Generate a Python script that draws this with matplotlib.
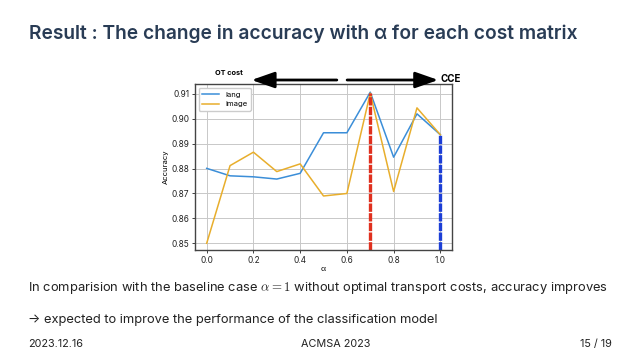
import matplotlib
matplotlib.use("Agg")
import matplotlib.pyplot as plt

alpha = [0.0, 0.1, 0.2, 0.3, 0.4, 0.5, 0.6, 0.7, 0.8, 0.9, 1.0]
lang = [0.8801, 0.8771, 0.8767, 0.8758, 0.8781, 0.8944, 0.8944, 0.9107, 0.8846, 0.9020, 0.8936]
image = [0.8500, 0.8812, 0.8866, 0.8788, 0.8819, 0.8690, 0.8700, 0.9103, 0.8708, 0.9044, 0.8936]
best_alpha = 0.7
base_alpha = 1.0

plt.rcParams['font.family'] = ['Inter', 'DejaVu Sans']
plt.rcParams['mathtext.fontset'] = 'cm'

fig = plt.figure(figsize=(6.4, 3.6), dpi=100)
fig.patch.set_facecolor('white')

navy = '#293c55'
fig.text(0.045, 0.906, "Result : The change in accuracy with α for each cost matrix",
         fontsize=13.8, color=navy, fontweight='semibold', va='center', ha='left')

ax = fig.add_axes([0.3047, 0.3056, 0.4016, 0.4611])
ax.plot(alpha, lang, color='#3b8ed8', lw=1.1, label='lang')
ax.plot(alpha, image, color='#e8ae2c', lw=1.1, label='image')
ax.vlines(best_alpha, 0.8473, image[alpha.index(best_alpha)], colors='#e0301e', lw=2.4, linestyles=(0, (2.5, 0.4)))
ax.vlines(base_alpha, 0.8473, lang[alpha.index(base_alpha)], colors='#1c3ed6', lw=2.4, linestyles=(0, (2.5, 0.4)))
ax.set_xlim(-0.05, 1.05)
ax.set_ylim(0.8473, 0.914)
ax.set_xticks([0.0, 0.2, 0.4, 0.6, 0.8, 1.0])
ax.set_yticks([0.85, 0.86, 0.87, 0.88, 0.89, 0.90, 0.91])
ax.set_yticklabels(['0.85', '0.86', '0.87', '0.88', '0.89', '0.90', '0.91'])
ax.grid(True, color='#c8c8c8', lw=0.7)
ax.set_axisbelow(True)
ax.tick_params(labelsize=6, length=2, width=0.6, pad=2, colors='#222222')
for s in ax.spines.values():
    s.set_color('#444444')
    s.set_linewidth(1.0)
ax.set_xlabel('α', fontsize=5.5, labelpad=1)
ax.set_ylabel('Accuracy', fontsize=5.5, labelpad=2)
leg = ax.legend(loc='upper left', fontsize=5.5, handlelength=2.2, borderpad=0.45,
                labelspacing=0.45, framealpha=1, edgecolor='#cccccc')

arrow_style = dict(arrowstyle='-|>,head_length=1.0,head_width=0.35', lw=2, color='black',
                   shrinkA=0, shrinkB=0, mutation_scale=14)
ax.annotate('', xy=(0.192, 1.024), xytext=(0.557, 1.024),
            xycoords=('data', 'axes fraction'), textcoords=('data', 'axes fraction'),
            arrowprops=arrow_style)
ax.annotate('', xy=(0.991, 1.024), xytext=(0.601, 1.024),
            xycoords=('data', 'axes fraction'), textcoords=('data', 'axes fraction'),
            arrowprops=arrow_style)
ax.text(0.078, 1.066, 'OT cost', transform=ax.transAxes, fontsize=5.3, fontweight='bold',
        ha='left', va='center')
ax.text(0.957, 1.03, 'CCE', transform=ax.transAxes, fontsize=7, fontweight='bold',
        ha='left', va='center')

body = '#222222'
fig.text(0.044, 0.2, r"In comparision with the baseline case $\alpha = 1$ without optimal transport costs, accuracy improves",
         fontsize=9.3, color=body, va='center', ha='left')
fig.text(0.044, 0.112, "→ expected to improve the performance of the classification model",
         fontsize=9.3, color=body, va='center', ha='left')
fig.text(0.044, 0.045, "2023.12.16", fontsize=7.8, color=body, va='center', ha='left')
fig.text(0.524, 0.045, "ACMSA 2023", fontsize=7.8, color=body, va='center', ha='center')
fig.text(0.956, 0.045, "15 / 19", fontsize=7.8, color=body, va='center', ha='right')

fig.savefig('out.png', dpi=100, facecolor='white')
